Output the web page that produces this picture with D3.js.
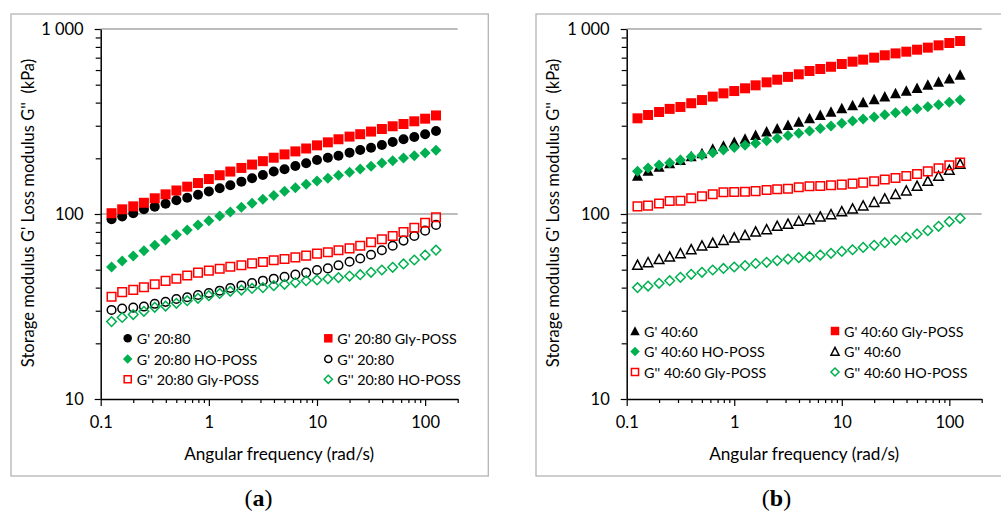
<!DOCTYPE html>
<html>
<head>
<meta charset="utf-8">
<script src="https://cdn.jsdelivr.net/npm/d3@7"></script>
<style>
  body { margin: 0; background: #fff; }
  text { font-family: Lato, sans-serif; fill: #000; }
  .panelTag { font-family: "Liberation Serif", serif; }
</style>
</head>
<body>
<svg id="chart"></svg>
<script>
// angular frequency (rad/s), shared by all series
const freq = [0.126, 0.158, 0.2, 0.251, 0.316, 0.398, 0.501, 0.631, 0.794, 1, 1.26, 1.58, 2, 2.51, 3.16, 3.98, 5.01, 6.31, 7.94, 10, 12.6, 15.8, 20, 25.1, 31.6, 39.8, 50.1, 63.1, 79.4, 100, 126];

// panel (a), kPa
const gp2080 = [93.6, 97, 101, 106, 109.6, 113.7, 118.6, 122.5, 127, 132.5, 137.7, 143, 149.6, 156, 162.6, 169.6, 174.4, 181.7, 188, 196, 201.5, 206.6, 214.6, 222, 228, 236, 245, 253.5, 260.6, 270, 281];
const gp2080Gly = [101, 106, 110, 115, 121.6, 127.7, 134, 140.5, 147, 154.5, 162, 169.6, 177.4, 185, 193, 201.5, 210, 218, 226, 235, 244, 253.5, 262, 270, 279, 288, 298, 306.5, 317, 327.5, 341];
const gp2080HO = [51.7, 55.7, 59.3, 63.3, 67.8, 72.3, 77.3, 82, 87.3, 92, 97.5, 102.5, 108.7, 114.2, 120, 126, 132.6, 138.8, 144.8, 150.8, 156, 161.8, 168, 175, 181, 188.7, 194, 201, 206.6, 213.8, 221];
const gpp2080 = [30.3, 30.8, 31.2, 31.6, 32.7, 33.5, 34.7, 35.5, 36.5, 37.4, 38.5, 39.8, 41.1, 42.3, 43.6, 44.7, 45.8, 47, 48.2, 49.8, 50.8, 52.8, 55.2, 57.5, 60.2, 63.7, 67.4, 71.8, 76.1, 81.3, 87.3];
const gpp2080Gly = [35.7, 37.8, 38.9, 40.2, 41.7, 43.5, 44.7, 46.5, 48.2, 49.4, 50.6, 51.9, 52.8, 54.1, 55, 56.2, 57.1, 58.3, 59.6, 61.1, 62.1, 63.7, 65.2, 67.4, 70.3, 73, 76.1, 79.9, 84.3, 89.7, 96];
const gpp2080HO = [26.2, 27.6, 28.6, 29.8, 31.3, 31.8, 32.9, 34, 35, 36.2, 37.2, 38.2, 38.8, 39.6, 40, 41, 41.7, 42.6, 43.6, 44, 44.6, 45.3, 46.2, 47, 48.4, 49.8, 51.5, 53.7, 56.4, 60, 63.8];

// panel (b), kPa
const gp4060 = [161, 171, 180, 188, 196, 205, 213, 225, 234, 245, 255, 267, 279, 290, 303, 315, 329, 343, 357, 373, 387, 402, 417, 431, 449, 464, 480, 500, 519, 539, 566];
const gp4060Gly = [329, 343, 356, 370, 379, 397, 413, 431, 449, 462, 478, 496, 515, 532, 551, 569, 593, 608, 625, 647, 666, 683, 700, 721, 738, 754, 773, 793, 816, 840, 861];
const gp4060HO = [170, 177, 184, 189, 196, 204, 208, 214, 222, 229, 235, 241, 249, 257, 266, 273, 281, 290, 299, 309, 318, 326, 334, 344, 353, 360, 371, 380, 390, 402, 413];
const gpp4060 = [53, 54.8, 56.9, 58.8, 61.3, 64.4, 67.4, 69.7, 72.3, 74.5, 76.9, 80.2, 82.6, 86.1, 88.3, 91.6, 93.6, 96.8, 99.6, 103.3, 106.9, 110.9, 116, 121, 127.8, 133.7, 141.7, 150.8, 160.4, 173, 186.4];
const gpp4060Gly = [110, 111, 114, 117.5, 118, 121.6, 124.7, 127.8, 131, 131.5, 132, 133, 134.8, 136, 137, 139.4, 141.2, 141.7, 142.9, 144.1, 146, 147.7, 150.3, 153.5, 156.6, 160.4, 164.4, 170, 176.6, 183.4, 190];
const gpp4060HO = [40, 40.8, 42.2, 43.6, 45.5, 47.2, 48.4, 49.8, 50.8, 51.7, 52.6, 54, 54.8, 56, 57.1, 58.1, 58.8, 60, 61.3, 62.8, 64.1, 66, 67.7, 70, 72.3, 74.8, 78, 81.3, 85.8, 91, 94.8];

const xTicks = [0.1, 1, 10, 100];
const yTicks = [10, 100, 1000];
const yTickLabels = ['10', '100', '1 000'];
const xTitle = 'Angular frequency (rad/s)';
const yTitle = "Storage modulus G' Loss modulus G''  (kPa)";

const RED = '#ff0000', GREEN = '#00b050', BLACK = '#000';

const W = 1001, H = 512;
const svg = d3.select('#chart').attr('width', W).attr('height', H);

// marker paths, bounding box centred on the point
function markerPath(shape, s) {
    let h = s / 2;
    if (shape === 'circle') return d3.symbol(d3.symbolCircle, Math.PI * h * h)();
    if (shape === 'square') return `M${-h},${-h}H${h}V${h}H${-h}Z`;
    if (shape === 'diamond') return `M0,${-h}L${h},0L0,${h}L${-h},0Z`;
    if (shape === 'triangle') return `M0,${-h}L${h},${h * 0.9}L${-h},${h * 0.9}Z`;
}

function styleMarker(sel, m) {
    sel.attr('d', markerPath(m.shape, m.filled ? m.size : m.size - 1.4))
        .attr('fill', m.filled ? m.color : 'none')
        .attr('stroke', m.color)
        .attr('stroke-width', m.filled ? 0 : 1.5);
}

function drawPanel(p) {
    let g = svg.append('g');
    let x = d3.scaleLog().domain([0.1, 200]).range([p.left, p.right]);
    let y = d3.scaleLog().domain([10, 1000]).range([399, 29]);

    g.append('rect')
        .attr('x', p.box[0]).attr('y', p.box[1])
        .attr('width', p.box[2]).attr('height', p.box[3])
        .attr('fill', 'none').attr('stroke', '#b4b4b4').attr('stroke-width', 1.3);

    // horizontal gridlines
    g.selectAll('.grid')
        .data([100, 1000])
        .join('line')
        .attr('x1', p.left).attr('x2', p.right)
        .attr('y1', d => y(d)).attr('y2', d => y(d))
        .attr('stroke', '#a6a6a6').attr('stroke-width', 1.5);

    let minorX = [];
    [0.1, 1, 10, 100].forEach(dec => {
        for (let k = 2; k <= 9; k++) {
            if (dec * k <= 200) minorX.push(+(dec * k).toPrecision(2));
        }
    });
    let minorY = [];
    [10, 100].forEach(dec => {
        for (let k = 2; k <= 9; k++) minorY.push(dec * k);
    });

    // x axis: minor then major
    g.append('g')
        .attr('transform', `translate(0,${y(10)})`)
        .call(d3.axisBottom(x).tickValues(minorX).tickSize(4).tickFormat(''))
        .call(a => a.select('.domain').remove());
    let xa = g.append('g')
        .attr('transform', `translate(0,${y(10)})`)
        .call(d3.axisBottom(x).tickValues(xTicks).tickSize(7).tickSizeOuter(0).tickPadding(10)
            .tickFormat(d => d3.format('~g')(d)));
    xa.selectAll('text').attr('font-size', 16.5).attr('font-family', 'Lato');

    // y axis
    g.append('g')
        .attr('transform', `translate(${p.left},0)`)
        .call(d3.axisLeft(y).tickValues(minorY).tickSize(5).tickFormat(''))
        .call(a => a.select('.domain').remove());
    let ya = g.append('g')
        .attr('transform', `translate(${p.left},0)`)
        .call(d3.axisLeft(y).tickValues(yTicks).tickSize(6).tickSizeOuter(0).tickPadding(11)
            .tickFormat((d, i) => yTickLabels[i]));
    ya.selectAll('text').attr('font-size', 16.5).attr('font-family', 'Lato');
    g.selectAll('.domain').attr('stroke', '#000').attr('stroke-width', 1.5);
    g.selectAll('.tick line').attr('stroke', '#000').attr('stroke-width', 1.2);

    g.append('text')
        .attr('x', (p.left + p.right) / 2).attr('y', 460)
        .attr('text-anchor', 'middle').attr('font-size', 17.2)
        .text(xTitle);

    g.append('text')
        .attr('transform', `translate(${p.yTitleX},213) rotate(-90)`)
        .attr('text-anchor', 'middle').attr('font-size', 16.5)
        .attr('xml:space', 'preserve')
        .style('white-space', 'pre')
        .text(yTitle);

    // series points
    p.series.forEach(s => {
        g.append('g')
            .selectAll('path')
            .data(s.values.map((v, i) => [freq[i], v]))
            .join('path')
            .attr('transform', d => `translate(${x(d[0])},${y(d[1])})`)
            .call(styleMarker, s);
    });

    // legend, two columns
    let leg = g.append('g')
        .selectAll('g')
        .data(p.series)
        .join('g')
        .attr('transform', (d, i) => `translate(${p.legX[i % 2]},${p.legY[Math.floor(i / 2)]})`);
    leg.append('path').each(function(d) {
        d3.select(this).call(styleMarker, Object.assign({}, d, { size: d.size - 1.5 }));
    });
    leg.append('text')
        .attr('x', 9).attr('y', 5.5)
        .attr('font-size', 14.3)
        .text(d => d.name);

    let tag = g.append('text')
        .attr('class', 'panelTag')
        .attr('x', p.tagX).attr('y', 506)
        .attr('text-anchor', 'middle').attr('font-size', 24);
    tag.append('tspan').text('(');
    tag.append('tspan').attr('font-weight', 'bold').text(p.tag);
    tag.append('tspan').text(')');
}

drawPanel({
    left: 100.7, right: 457.7,
    box: [11, 14, 477.3, 462],
    yTitleX: 34, tagX: 258.5, tag: 'a',
    legX: [127.7, 328.3], legY: [338.3, 359, 379.3],
    series: [
        { name: "G' 20:80", values: gp2080, shape: 'circle', filled: true, color: BLACK, size: 10 },
        { name: "G' 20:80 Gly-POSS", values: gp2080Gly, shape: 'square', filled: true, color: RED, size: 10 },
        { name: "G' 20:80 HO-POSS", values: gp2080HO, shape: 'diamond', filled: true, color: GREEN, size: 11 },
        { name: "G'' 20:80", values: gpp2080, shape: 'circle', filled: false, color: BLACK, size: 10 },
        { name: "G'' 20:80 Gly-POSS", values: gpp2080Gly, shape: 'square', filled: false, color: RED, size: 10 },
        { name: "G'' 20:80 HO-POSS", values: gpp2080HO, shape: 'diamond', filled: false, color: GREEN, size: 11 }
    ]
});

drawPanel({
    left: 626.7, right: 981.7,
    box: [536, 14, 466, 462],
    yTitleX: 559, tagX: 776.5, tag: 'b',
    legX: [635, 835], legY: [331, 351.5, 372],
    series: [
        { name: "G' 40:60", values: gp4060, shape: 'triangle', filled: true, color: BLACK, size: 11 },
        { name: "G' 40:60 Gly-POSS", values: gp4060Gly, shape: 'square', filled: true, color: RED, size: 10 },
        { name: "G' 40:60 HO-POSS", values: gp4060HO, shape: 'diamond', filled: true, color: GREEN, size: 11 },
        { name: "G'' 40:60", values: gpp4060, shape: 'triangle', filled: false, color: BLACK, size: 11 },
        { name: "G'' 40:60 Gly-POSS", values: gpp4060Gly, shape: 'square', filled: false, color: RED, size: 10 },
        { name: "G'' 40:60 HO-POSS", values: gpp4060HO, shape: 'diamond', filled: false, color: GREEN, size: 11 }
    ]
});
</script>
</body>
</html>
